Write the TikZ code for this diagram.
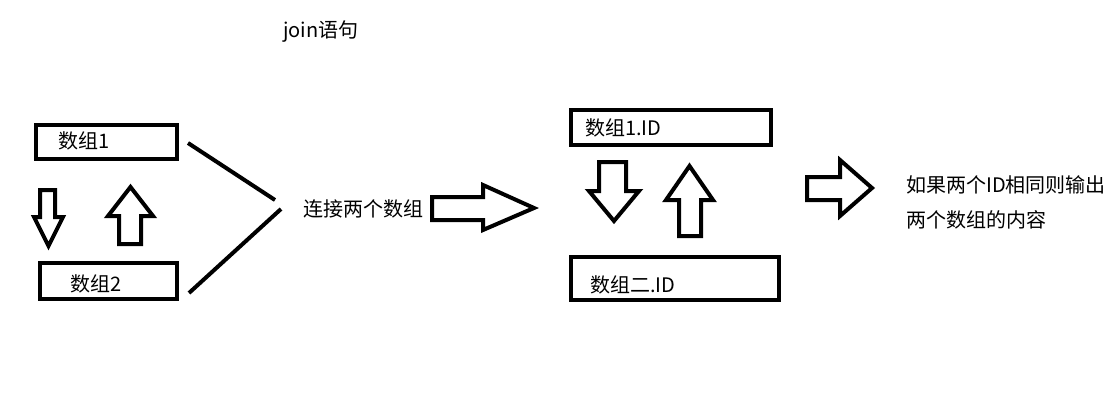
\documentclass[tikz,border=0pt]{standalone}
\usepackage{fontspec}
\setmainfont{Noto Sans CJK SC}
\begin{document}
\begin{tikzpicture}[x=1pt,y=-1pt,
  box/.style={draw=black,line width=4pt,inner sep=0pt},
  lbl/.style={anchor=west,inner sep=0pt,font=\fontsize{20}{24}\selectfont},
  blk/.style={draw=black,line width=4pt,line join=miter,fill=white},
  stroke/.style={draw=black,line width=4pt}]
\useasboundingbox (0,0) rectangle (1117,410);
\node[lbl] (title) at (283,32) {join语句};
% left boxes
\node[box,minimum width=141pt,minimum height=34pt] (b1) at (106.5,142) {};
\node[lbl] (t1) at (58,141) {数组1};
\node[box,minimum width=137pt,minimum height=36pt] (b2) at (108.5,281) {};
\node[lbl] (t2) at (70,284) {数组2};
% arrows left
\draw[blk] (40,190)--(55,190)--(55,217)--(63,217)--(48.5,246)--(34,217)--(40,217)--cycle;
\draw[blk] (119,244)--(141,244)--(141,216)--(153,216)--(130.5,187)--(108,216)--(119,216)--cycle;
% converging lines
\coordinate (l1a) at (188,143);
\coordinate (l1b) at (275,200);
\coordinate (l2a) at (281,209);
\coordinate (l2b) at (189,293);
\draw[stroke] (l1a)--(l1b);
\draw[stroke] (l2a)--(l2b);
\node[lbl] (join) at (303,209) {连接两个数组};
\draw[blk] (432,197)--(483,197)--(483,185)--(534,208)--(483,230)--(483,220)--(432,220)--cycle;
% right boxes
\node[box,minimum width=200pt,minimum height=35pt] (b3) at (671,127.5) {};
\node[lbl] (t3) at (585,128) {数组1.ID};
\node[box,minimum width=208pt,minimum height=43pt] (b4) at (675,278.5) {};
\node[lbl] (t4) at (590,285) {数组二.ID};
\draw[blk] (599,162)--(626,162)--(626,191)--(639,191)--(614,221)--(589,191)--(599,191)--cycle;
\draw[blk] (679,236)--(701,236)--(701,200)--(713,200)--(689.5,166)--(666,200)--(679,200)--cycle;
% output
\draw[blk] (807,177)--(840,177)--(840,160)--(872,188)--(840,216)--(840,200)--(807,200)--cycle;
\node[lbl] (o1) at (906,185) {如果两个ID相同则输出};
\node[lbl] (o2) at (906,220) {两个数组的内容};
\end{tikzpicture}
\end{document}
